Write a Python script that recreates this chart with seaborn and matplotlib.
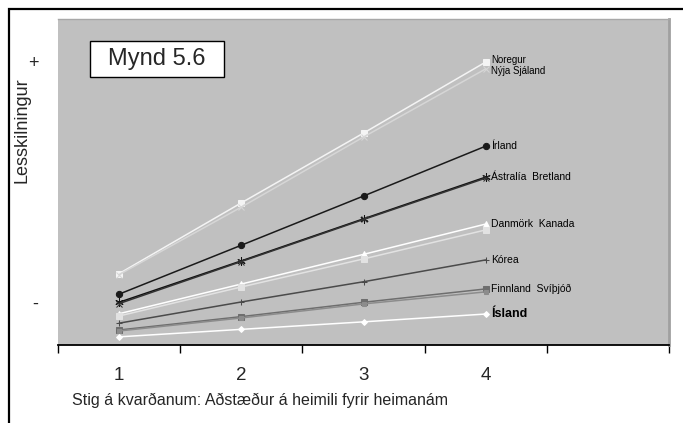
import pandas as pd
import matplotlib.pyplot as plt
import matplotlib.patches as mpatches
import seaborn as sns

# ─────────────────────────────────────────────
# DATA (arbitrary units)
# ─────────────────────────────────────────────
stig = [1, 2, 3, 4]
noregur = [2.19, 4.36, 6.50, 8.68]
nyja_sjaland = [2.16, 4.23, 6.38, 8.47]
irland = [1.56, 3.06, 4.57, 6.10]
astralia = [1.31, 2.58, 3.87, 5.15]
bretland = [1.27, 2.56, 3.85, 5.12]
danmork = [0.96, 1.87, 2.78, 3.71]
kanada = [0.89, 1.78, 2.64, 3.53]
korea = [0.67, 1.32, 1.94, 2.61]
finnland = [0.46, 0.87, 1.31, 1.72]
svithjod = [0.43, 0.83, 1.26, 1.63]
island = [0.25, 0.48, 0.71, 0.95]

x_ticklabels = ["1", "2", "3", "4", ""]
y_ticks = [8.7, 1.3]
y_ticklabels = ["+", "-"]

# (name, values, line colour, marker, marker size)
SERIES = [
    ("Noregur", noregur, "#F4F4F4", "s", 4.5),
    ("Nýja Sjáland", nyja_sjaland, "#D6D6D6", "x", 4),
    ("Írland", irland, "#1A1A1A", "o", 4.5),
    ("Ástralía", astralia, "#111111", (6, 2, 0), 6),
    ("Bretland", bretland, "#333333", "x", 4),
    ("Danmörk", danmork, "#FFFFFF", "^", 4.5),
    ("Kanada", kanada, "#E2E2E2", "s", 4),
    ("Kórea", korea, "#4A4A4A", "+", 5),
    ("Finnland", finnland, "#6E6E6E", "s", 4.5),
    ("Svíþjóð", svithjod, "#8C8C8C", "s", 3.5),
    ("Ísland", island, "#FFFFFF", "D", 3),
]

# (text, values it sits next to, vertical nudge in points, font size, weight)
LABELS = [
    ("Noregur", noregur, 1.5, 7, "normal"),
    ("Nýja Sjáland", nyja_sjaland, -1.5, 7, "normal"),
    ("Írland", irland, 0, 7.5, "normal"),
    ("Ástralía  Bretland", astralia, 0, 7.5, "normal"),
    ("Danmörk  Kanada", danmork, 0, 7.5, "normal"),
    ("Kórea", korea, 0, 7.5, "normal"),
    ("Finnland  Svíþjóð", finnland, 0, 7.5, "normal"),
    ("Ísland", island, 0, 9, "bold"),
]

sns.set_style("white")
plt.rcParams["font.family"] = ["Liberation Sans", "DejaVu Sans"]

fig = plt.figure(figsize=(6.83, 4.23), dpi=100)
ax = fig.add_axes([58 / 683, 1 - 345 / 423, 611 / 683, 326 / 423])
ax.set_facecolor("#C0C0C0")

for name, vals, col, mk, ms in SERIES:
    df = pd.DataFrame({"stig": stig, "gildi": vals})
    sns.lineplot(data=df, x="stig", y="gildi", ax=ax, color=col, lw=1.1,
                 marker=mk, markersize=ms, markeredgecolor=col,
                 markerfacecolor=col, legend=False)

for text, vals, dy, fs, fw in LABELS:
    ax.annotate(text, xy=(stig[-1], vals[-1]), xytext=(4, dy),
                textcoords="offset points", ha="left", va="center",
                fontsize=fs, fontweight=fw, color="black")

# axes / scales
ax.set_xlim(0.5, 5.5)
ax.set_ylim(0, 10)
ax.set_xticks([0.5, 1.5, 2.5, 3.5, 4.5, 5.5])
ax.set_xticklabels([])
ax.set_xticks([1, 2, 3, 4, 5], minor=True)
ax.set_xticklabels(x_ticklabels, minor=True, fontsize=13.5)
ax.tick_params(axis="x", which="major", direction="out", length=5.5,
               width=1, color="black", bottom=True)
ax.tick_params(axis="x", which="minor", length=0, pad=16)
ax.set_yticks(y_ticks)
ax.set_yticklabels(y_ticklabels, fontsize=13)
ax.tick_params(axis="y", length=0, pad=14)

ax.spines["left"].set_visible(False)
ax.spines["bottom"].set_color("black")
ax.spines["bottom"].set_linewidth(1.3)
ax.spines["top"].set_color("#A8A8A8")
ax.spines["top"].set_linewidth(1)
ax.spines["right"].set_color("#A0A0A0")
ax.spines["right"].set_linewidth(2)

ax.set_xlabel("Stig á kvarðanum: Aðstæður á heimili fyrir heimanám",
              fontsize=11.5, ha="left", va="center")
ax.xaxis.set_label_coords(14 / 611, -55 / 326)
ax.set_ylabel("Lesskilningur", fontsize=13, va="center")
ax.yaxis.set_label_coords(-36 / 611, 215 / 326)

# "Mynd 5.6" box
ax.add_patch(mpatches.Rectangle((32 / 611, 268 / 326), 134 / 611, 36 / 326,
                                transform=ax.transAxes, facecolor="white",
                                edgecolor="black", lw=1, zorder=5))
ax.text(99 / 611, 286 / 326, "Mynd 5.6", transform=ax.transAxes,
        ha="center", va="center", fontsize=17, zorder=6)

# outer frame (runs off the right and bottom edges)
fig.patches.append(mpatches.Rectangle((9 / 683, -0.1), 1.2, 1.1 - 9 / 423,
                                      transform=fig.transFigure, fill=False,
                                      edgecolor="black", lw=1.6))

fig.savefig("out.png", dpi=100)
